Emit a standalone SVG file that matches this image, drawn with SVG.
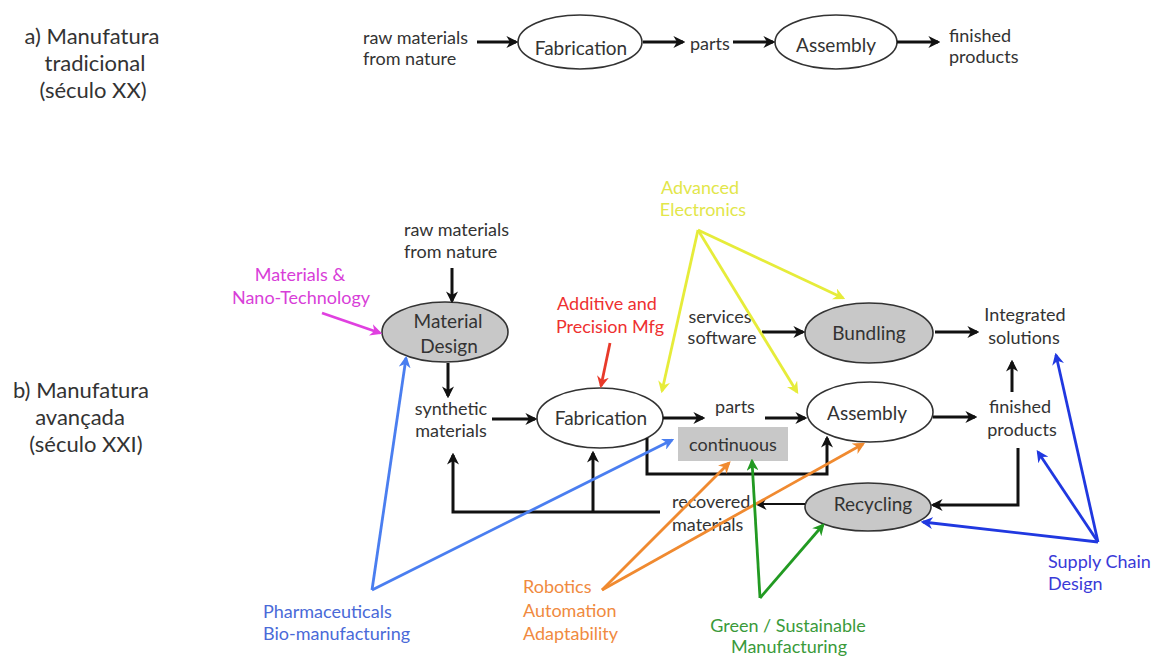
<svg xmlns="http://www.w3.org/2000/svg" width="1157" height="657" viewBox="0 0 1157 657">
<style>
text{font-family:Lato,"Open Sans","Liberation Sans",sans-serif;fill:#333}
.t{font-size:18px}
.n{font-size:19px}
.h{font-size:22px}
.m{text-anchor:middle}
.el{fill:#fff;stroke:#333;stroke-width:1.6}
.gr{fill:#c8c8c8;stroke:#333;stroke-width:1.6}
.bk{fill:none;stroke:#111;stroke-width:3}
.c{fill:none;stroke-width:2.8}
</style>
<defs>
<marker id="ak" viewBox="0 0 10 10" refX="8" refY="5" markerWidth="12" markerHeight="12" markerUnits="userSpaceOnUse" orient="auto"><path d="M0,0L10,5L0,10L3,5z" fill="#111"/></marker>
<marker id="am" viewBox="0 0 10 10" refX="8" refY="5" markerWidth="12" markerHeight="12" markerUnits="userSpaceOnUse" orient="auto"><path d="M0,0L10,5L0,10L3,5z" fill="#e040e0"/></marker>
<marker id="ar" viewBox="0 0 10 10" refX="8" refY="5" markerWidth="12" markerHeight="12" markerUnits="userSpaceOnUse" orient="auto"><path d="M0,0L10,5L0,10L3,5z" fill="#e83a2a"/></marker>
<marker id="ay" viewBox="0 0 10 10" refX="8" refY="5" markerWidth="12" markerHeight="12" markerUnits="userSpaceOnUse" orient="auto"><path d="M0,0L10,5L0,10L3,5z" fill="#e6ec3a"/></marker>
<marker id="alb" viewBox="0 0 10 10" refX="8" refY="5" markerWidth="12" markerHeight="12" markerUnits="userSpaceOnUse" orient="auto"><path d="M0,0L10,5L0,10L3,5z" fill="#4a7ef0"/></marker>
<marker id="ao" viewBox="0 0 10 10" refX="8" refY="5" markerWidth="12" markerHeight="12" markerUnits="userSpaceOnUse" orient="auto"><path d="M0,0L10,5L0,10L3,5z" fill="#f08a30"/></marker>
<marker id="ag" viewBox="0 0 10 10" refX="8" refY="5" markerWidth="12" markerHeight="12" markerUnits="userSpaceOnUse" orient="auto"><path d="M0,0L10,5L0,10L3,5z" fill="#229a22"/></marker>
<marker id="adb" viewBox="0 0 10 10" refX="8" refY="5" markerWidth="12" markerHeight="12" markerUnits="userSpaceOnUse" orient="auto"><path d="M0,0L10,5L0,10L3,5z" fill="#2038e0"/></marker>
</defs>

<g id="labels">
<text class="h m" x="92" y="44">a) Manufatura</text>
<text class="h m" x="95" y="71">tradicional</text>
<text class="h m" x="93" y="98">(século XX)</text>
<text class="h m" x="81" y="398">b) Manufatura</text>
<text class="h m" x="80" y="425">avançada</text>
<text class="h m" x="86" y="452">(século XXI)</text>
</g>

<!-- part a nodes -->
<g id="a-raw"><text class="t" x="363" y="44">raw materials</text><text class="t" x="363" y="65">from nature</text></g>
<g id="a-fab"><ellipse class="el" cx="580" cy="42" rx="62" ry="27"/><text class="n m" x="581" y="55">Fabrication</text></g>
<g id="a-parts"><text class="t" x="690" y="50">parts</text></g>
<g id="a-asm"><ellipse class="el" cx="836" cy="42" rx="61" ry="27"/><text class="n m" x="836" y="52">Assembly</text></g>
<g id="a-fin"><text class="t" x="949" y="42">finished</text><text class="t" x="949" y="63">products</text></g>

<!-- part b nodes -->
<g id="b-raw"><text class="t" x="404" y="236">raw materials</text><text class="t" x="404" y="258">from nature</text></g>
<g id="b-md"><ellipse class="gr" cx="445" cy="332" rx="63" ry="30"/><text class="n m" x="448" y="328">Material</text><text class="n m" x="449" y="353">Design</text></g>
<g id="b-syn"><text class="t m" x="451" y="415">synthetic</text><text class="t m" x="451" y="437">materials</text></g>
<g id="b-fab"><ellipse class="el" cx="600" cy="418" rx="63" ry="30"/><text class="n m" x="601" y="425">Fabrication</text></g>
<g id="b-parts"><text class="t m" x="735" y="413">parts</text></g>
<g id="b-cont"><rect x="678" y="427" width="110" height="34" fill="#c8c8c8"/><text class="t m" x="733" y="451">continuous</text></g>
<g id="b-asm"><ellipse class="el" cx="870" cy="412" rx="63" ry="30"/><text class="n m" x="867" y="420">Assembly</text></g>
<g id="b-fin"><text class="t m" x="1020" y="413">finished</text><text class="t m" x="1022" y="436">products</text></g>
<g id="b-serv"><text class="t m" x="720" y="323">services</text><text class="t m" x="722" y="344">software</text></g>
<g id="b-bund"><ellipse class="gr" cx="869" cy="333" rx="64" ry="30"/><text class="n m" x="869" y="340">Bundling</text></g>
<g id="b-int"><text class="t m" x="1025" y="321">Integrated</text><text class="t m" x="1024" y="344">solutions</text></g>
<g id="b-rec"><ellipse class="gr" cx="868" cy="507" rx="63" ry="24"/><text class="n m" x="873" y="511">Recycling</text></g>
<g id="b-recov"><text class="t" x="672" y="508">recovered</text><text class="t" x="672" y="531">materials</text></g>

<g id="b-ae"><text class="t m" x="700" y="194" style="fill:#e2e64a">Advanced</text><text class="t m" x="703" y="216" style="fill:#e2e64a">Electronics</text></g>
<g id="b-mnt"><text class="t m" x="300" y="281" style="fill:#d83ed8">Materials &amp;</text><text class="t m" x="301" y="304" style="fill:#d83ed8">Nano-Technology</text></g>
<g id="b-apm"><text class="t m" x="607" y="310" style="fill:#ee3030">Additive and</text><text class="t m" x="610" y="333" style="fill:#ee3030">Precision Mfg</text></g>
<g id="b-pharma"><text class="t" x="263" y="618" style="fill:#4a6ad8">Pharmaceuticals</text><text class="t" x="263" y="640" style="fill:#4a6ad8">Bio-manufacturing</text></g>
<g id="b-rob"><text class="t" x="523" y="593" style="fill:#f08a40">Robotics</text><text class="t" x="523" y="617" style="fill:#f08a40">Automation</text><text class="t" x="523" y="640" style="fill:#f08a40">Adaptability</text></g>
<g id="b-green"><text class="t m" x="788" y="632" style="fill:#3a9a3a">Green / Sustainable</text><text class="t m" x="789" y="653" style="fill:#3a9a3a">Manufacturing</text></g>
<g id="b-scd"><text class="t" x="1048" y="568" style="fill:#3a3ad8">Supply Chain</text><text class="t" x="1048" y="590" style="fill:#3a3ad8">Design</text></g>

<g id="connectors">
<!-- part a -->
<line class="bk" x1="477" y1="42" x2="516" y2="42" marker-end="url(#ak)"/>
<line class="bk" x1="643" y1="42" x2="683" y2="42" marker-end="url(#ak)"/>
<line class="bk" x1="733" y1="42" x2="773" y2="42" marker-end="url(#ak)"/>
<line class="bk" x1="897" y1="42" x2="938" y2="42" marker-end="url(#ak)"/>
<!-- part b black -->
<line class="bk" x1="452" y1="268" x2="452" y2="301" marker-end="url(#ak)"/>
<line class="bk" x1="448" y1="363" x2="448" y2="396" marker-end="url(#ak)"/>
<line class="bk" x1="492" y1="419" x2="535" y2="419" marker-end="url(#ak)"/>
<line class="bk" x1="663" y1="418" x2="703" y2="418" marker-end="url(#ak)"/>
<line class="bk" x1="765" y1="418" x2="805" y2="418" marker-end="url(#ak)"/>
<line class="bk" x1="933" y1="417" x2="975" y2="417" marker-end="url(#ak)"/>
<line class="bk" x1="1012" y1="392" x2="1012" y2="362" marker-end="url(#ak)"/>
<line class="bk" x1="762" y1="332" x2="803" y2="332" marker-end="url(#ak)"/>
<line class="bk" x1="935" y1="332" x2="977" y2="332" marker-end="url(#ak)"/>
<path class="bk" d="M1018,448V505H933" marker-end="url(#ak)"/>
<line class="bk" style="stroke-width:2" x1="805" y1="504" x2="757" y2="504" marker-end="url(#ak)"/>
<path class="bk" d="M660,512H453V455" marker-end="url(#ak)"/>
<path class="bk" d="M593,512V453" marker-end="url(#ak)"/>
<path class="bk" d="M647,438V474H827V438" marker-end="url(#ak)"/>
<!-- colored -->
<line class="c" stroke="#e040e0" x1="322" y1="313" x2="380" y2="333" marker-end="url(#am)"/>
<line class="c" stroke="#e83a2a" x1="610" y1="343" x2="601" y2="386" marker-end="url(#ar)"/>
<g stroke="#e6ec3a">
<line class="c" x1="698" y1="230" x2="662" y2="391" marker-end="url(#ay)"/>
<line class="c" x1="698" y1="230" x2="797" y2="392" marker-end="url(#ay)"/>
<line class="c" x1="698" y1="230" x2="843" y2="298" marker-end="url(#ay)"/>
</g>
<g stroke="#4a7ef0">
<line class="c" x1="372" y1="590" x2="406" y2="358" marker-end="url(#alb)"/>
<line class="c" x1="372" y1="590" x2="672" y2="440" marker-end="url(#alb)"/>
</g>
<g stroke="#f08a30">
<line class="c" x1="602" y1="590" x2="729" y2="463" marker-end="url(#ao)"/>
<line class="c" x1="602" y1="590" x2="863" y2="444" marker-end="url(#ao)"/>
</g>
<g stroke="#229a22">
<line class="c" x1="760" y1="598" x2="752" y2="461" marker-end="url(#ag)"/>
<line class="c" x1="760" y1="598" x2="823" y2="525" marker-end="url(#ag)"/>
</g>
<g stroke="#2038e0">
<line class="c" x1="1098" y1="542" x2="1056" y2="355" marker-end="url(#adb)"/>
<line class="c" x1="1098" y1="542" x2="1038" y2="452" marker-end="url(#adb)"/>
<line class="c" x1="1098" y1="542" x2="923" y2="522" marker-end="url(#adb)"/>
</g>
</g>
</svg>
